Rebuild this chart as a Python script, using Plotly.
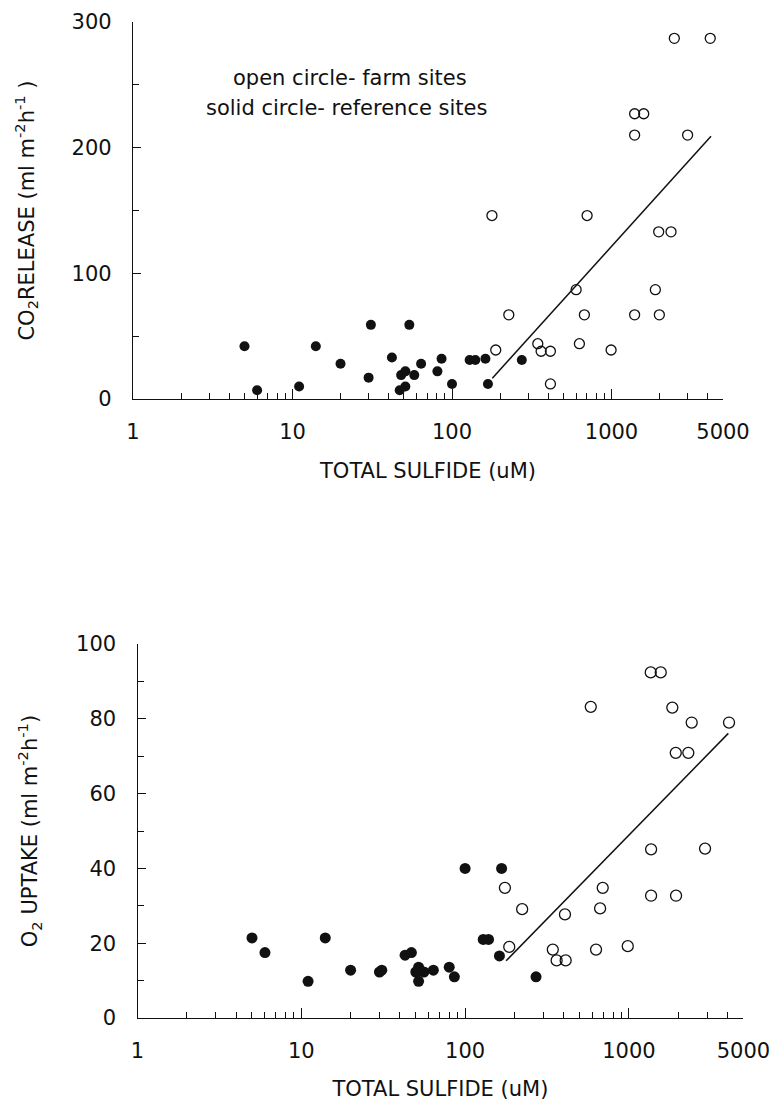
import numpy as np
import plotly.graph_objects as go
from plotly.subplots import make_subplots

# ---- data ----
top_ref_x = [5, 6, 11, 14, 20, 30, 31, 42, 47, 48, 51, 51, 54, 58, 64, 81, 86, 100, 129, 140, 162, 168, 274]
top_ref_y = [42, 7, 10, 42, 28, 17, 59, 33, 7, 19, 22, 10, 59, 19, 28, 22, 32, 12, 31, 31, 32, 12, 31]
top_farm_x = [178, 188, 227, 345, 362, 414, 414, 600, 629, 676, 703, 994, 1396, 1592, 1396, 1396,
              1883, 1976, 2361, 1995, 2476, 3000, 4159]
top_farm_y = [146, 39, 67, 44, 38, 38, 12, 87, 44, 67, 146, 39, 227, 227, 210, 67,
              87, 133, 133, 67, 287, 210, 287]
top_fit_x = [179, 4205]
top_fit_y = [16.5, 209]

bot_ref_x = [5, 6, 11, 14, 20, 30, 31, 43, 47, 50, 52, 52, 56, 64, 80, 86, 100, 129, 139, 162, 167, 271]
bot_ref_y = [21.4, 17.5, 9.8, 21.4, 12.8, 12.3, 12.8, 16.8, 17.5, 12.3, 13.6, 9.8, 12.3, 12.8, 13.6, 11,
             40, 21, 21, 16.6, 40, 11]
bot_farm_x = [175, 186, 223, 343, 362, 411, 407, 585, 630, 667, 692, 984, 1359, 1564, 1366, 1366,
              1841, 1932, 2305, 1940, 2417, 2916, 4085]
bot_farm_y = [34.8, 19, 29.1, 18.3, 15.4, 15.4, 27.7, 83.2, 18.3, 29.3, 34.8, 19.2, 92.4, 92.4, 45.1, 32.7,
              83, 70.9, 70.9, 32.7, 79, 45.3, 79]
bot_fit_x = [178, 4045]
bot_fit_y = [15.3, 76.1]

x_tickvals = [1, 10, 100, 1000, 5000]
x_ticktext = ["1", "10", "100", "1000", "5000"]
x_minor = [2, 3, 4, 5, 6, 7, 8, 9, 20, 30, 40, 50, 60, 70, 80, 90,
           200, 300, 400, 500, 600, 700, 800, 900, 2000, 3000, 4000]
top_y_ticks = [0, 100, 200, 300]
top_y_minor = [50, 150, 250]
bot_y_ticks = [0, 20, 40, 60, 80, 100]
bot_y_minor = [10, 30, 50, 70, 90]

W, H = 775, 1101
FONT = "DejaVu Sans"
INK = "#111111"

fig = make_subplots(rows=2, cols=1)

def add_panel(row, rx, ry, fx, fy, lx, ly, msize):
    fig.add_trace(go.Scatter(x=rx, y=ry, mode="markers",
                             marker=dict(symbol="circle", size=msize, color=INK, line=dict(width=0)),
                             showlegend=False), row=row, col=1)
    fig.add_trace(go.Scatter(x=fx, y=fy, mode="markers",
                             marker=dict(symbol="circle-open", size=msize, color=INK, line=dict(width=1.3, color=INK)),
                             showlegend=False), row=row, col=1)
    fig.add_trace(go.Scatter(x=lx, y=ly, mode="lines", line=dict(color=INK, width=1.5),
                             showlegend=False), row=row, col=1)

add_panel(1, top_ref_x, top_ref_y, top_farm_x, top_farm_y, top_fit_x, top_fit_y, 10)
add_panel(2, bot_ref_x, bot_ref_y, bot_farm_x, bot_farm_y, bot_fit_x, bot_fit_y, 11)

def xaxis_style(domain_px):
    return dict(type="log", range=[0, np.log10(5000)],
                domain=[domain_px[0] / W, domain_px[1] / W], automargin=False,
                tickmode="array", tickvals=x_tickvals, ticktext=x_ticktext,
                ticks="inside", ticklen=10, tickwidth=1, tickcolor=INK,
                minor=dict(tickmode="array", tickvals=x_minor, ticks="inside", ticklen=6,
                           tickwidth=1, tickcolor=INK, showgrid=False),
                showline=True, linecolor=INK, linewidth=1.2, mirror=False,
                showgrid=False, zeroline=False,
                tickfont=dict(family=FONT, size=21, color=INK),
                ticklabelstandoff=14,
                title=dict(text="TOTAL SULFIDE (uM)", font=dict(family=FONT, size=21, color=INK), standoff=20))

def yaxis_style(domain_px, rng, ticks, minor, title, standoff):
    return dict(range=rng, domain=[1 - domain_px[1] / H, 1 - domain_px[0] / H], automargin=False,
                tickmode="array", tickvals=ticks,
                ticks="inside", ticklen=8, tickwidth=1, tickcolor=INK,
                minor=dict(tickmode="array", tickvals=minor, ticks="inside", ticklen=6,
                           tickwidth=1, tickcolor=INK, showgrid=False),
                showline=True, linecolor=INK, linewidth=1.2, mirror=False,
                showgrid=False, zeroline=False,
                tickfont=dict(family=FONT, size=21, color=INK),
                ticklabelstandoff=16,
                title=dict(text=title, font=dict(family=FONT, size=21, color=INK), standoff=standoff))

fig.update_layout(
    width=W, height=H,
    margin=dict(l=0, r=0, t=0, b=0, autoexpand=False),
    paper_bgcolor="white", plot_bgcolor="white",
    font=dict(family=FONT, color=INK),
    xaxis=xaxis_style((133, 723)),
    yaxis=yaxis_style((22, 399), [0, 300], top_y_ticks, top_y_minor,
                      "CO<sub>2</sub>RELEASE (ml m<sup>-2</sup>h<sup>-1</sup> )", 31),
    xaxis2=xaxis_style((137.5, 743.4)),
    yaxis2=yaxis_style((644, 1018), [0, 100], bot_y_ticks, bot_y_minor,
                       "O<sub>2</sub> UPTAKE (ml m<sup>-2</sup>h<sup>-1</sup>)", 32),
    annotations=[
        dict(text="open circle- farm sites", xref="paper", yref="paper",
             x=350 / W, y=1 - 78 / H, xanchor="center", yanchor="middle", showarrow=False,
             font=dict(family=FONT, size=21, color=INK)),
        dict(text="solid circle- reference sites", xref="paper", yref="paper",
             x=346 / W, y=1 - 108 / H, xanchor="center", yanchor="middle", showarrow=False,
             font=dict(family=FONT, size=21, color=INK)),
    ],
)

fig.write_html("out.html", config={"displayModeBar": False},
               post_script="document.body.style.margin='0';")
